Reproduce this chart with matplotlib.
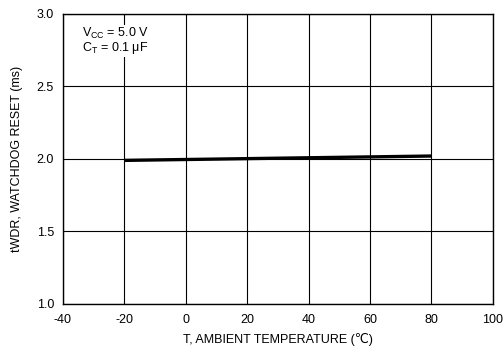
import matplotlib
matplotlib.use("Agg")
import matplotlib.pyplot as plt

plt.rcParams["font.family"] = ["Liberation Sans", "DejaVu Sans"]
plt.rcParams["mathtext.default"] = "regular"
plt.rcParams["axes.unicode_minus"] = False

temps = [-20, 80]
twdr = [1.99, 2.02]

x_ticks = [-40, -20, 0, 20, 40, 60, 80, 100]
y_ticks = [1.0, 1.5, 2.0, 2.5, 3.0]

fig = plt.figure(figsize=(5.04, 3.47), dpi=100)
ax = fig.add_axes([0.125, 0.124, 0.853, 0.836])

ax.plot(temps, twdr, color="black", linewidth=2.4, solid_capstyle="butt")

ax.set_xlim(-40, 100)
ax.set_ylim(1.0, 3.0)
ax.set_xticks(x_ticks)
ax.set_yticks(y_ticks)
ax.set_yticklabels([f"{v:.1f}" for v in y_ticks])
ax.grid(True, color="black", linewidth=0.8)
ax.set_axisbelow(True)
ax.tick_params(length=0, labelsize=9)
ax.tick_params(axis="x", pad=7)
ax.tick_params(axis="y", pad=6.5)
for spine in ax.spines.values():
    spine.set_linewidth(1.0)

ax.set_xlabel("T, AMBIENT TEMPERATURE (\u2103)", fontsize=9, labelpad=5)
ax.set_ylabel("tWDR, WATCHDOG RESET (ms)", fontsize=9, labelpad=10)

ax.text(0.045, 0.96, "V$_{CC}$ = 5.0 V\nC$_T$ = 0.1 \u03bcF", transform=ax.transAxes,
        ha="left", va="top", fontsize=9, linespacing=0.95,
        bbox=dict(facecolor="white", edgecolor="none", pad=1))

fig.savefig("out.png", dpi=100, facecolor="white")
